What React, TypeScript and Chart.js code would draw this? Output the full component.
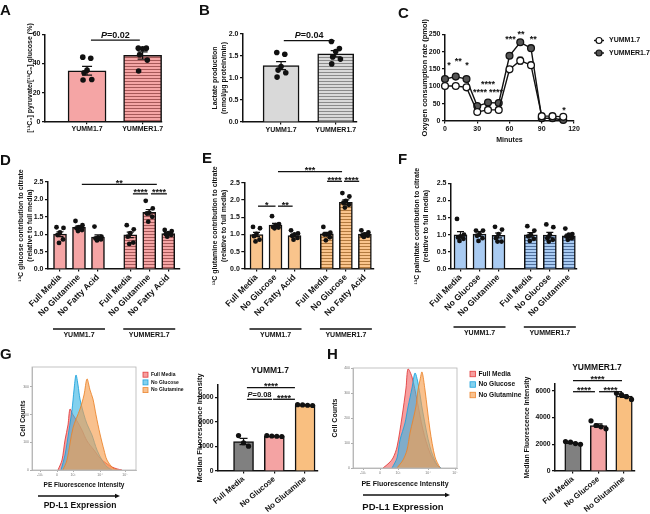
import React, { useEffect, useRef } from "react";
import { Chart, registerables } from "chart.js";

Chart.register(...registerables);

const FONT = "'Liberation Sans', Arial, Helvetica, sans-serif";
const PW = 650;
const PH = 514;
const INK = "#111111";

/* ================= DATA ================= */
// A – [13C3] pyruvate / [13C6] glucose (%)
const cellLines = ["YUMM1.7", "YUMMER1.7"];
const pyruvateMean = [35, 45.5];
const pyruvateSem = [3, 2.5];
const pyruvateYumm = [44.3, 43.6, 35.4, 33.6, 29.0, 28.6];
const pyruvateYummer = [50.5, 50.5, 50.0, 46.0, 42.3, 34.8];
const pyruvateTicks = [0, 20, 40, 60];

// B – lactate production
const lactateMean = [1.28, 1.55];
const lactateSem = [0.09, 0.07];
const lactateYumm = [1.58, 1.54, 1.26, 1.18, 1.12, 1.02];
const lactateYummer = [1.83, 1.67, 1.6, 1.48, 1.43, 1.32];
const lactateTicks = [0, 0.5, 1.0, 1.5, 2.0];

// C – oxygen consumption rate
const minutes = [0, 10, 20, 30, 40, 50, 60, 70, 80, 90, 100, 110];
const ocrYumm = [101, 101, 97, 26, 32, 32, 149, 174, 161, 14, 14, 12];
const ocrYummSem = [4, 4, 4, 3, 3, 3, 6, 10, 6, 2, 2, 2];
const ocrYummer = [121, 128, 121, 43, 53, 52, 188, 227, 210, 8, 8, 3];
const ocrYummerSem = [4, 4, 4, 3, 3, 3, 5, 5, 5, 2, 2, 2];
const ocrTicksX = [0, 30, 60, 90, 120];
const ocrTicksY = [0, 50, 100, 150, 200, 250];
const ocrStarMinutes = [3.7, 12.4, 20.4, 40, 32.5, 47.4, 61, 70.6, 82, 110.6];
const ocrStarValues = [167, 179, 167, 112, 89, 89, 242, 257, 242, 37];
const ocrStarLabels = ["*", "**", "*", "****", "****", "****", "***", "**", "**", "*"];

// D/E/F – tracer contribution to citrate
const tracerTicks = [0, 0.5, 1.0, 1.5, 2.0, 2.5];
const glucoseConditions = ["Full Media", "No Glutamine", "No Fatty Acid"];
const glucoseMean = [1.0, 1.2, 0.92, 0.98, 1.63, 1.02];
const glucoseSem = [0.07, 0.04, 0.06, 0.08, 0.08, 0.03];
const glucoseDots = [
  [1.2, 1.18, 1.05, 0.98, 0.85, 0.75],
  [1.38, 1.26, 1.2, 1.17, 1.12, 1.09],
  [1.22, 0.93, 0.9, 0.88, 0.85, 0.82],
  [1.26, 1.14, 1.03, 0.93, 0.76, 0.72],
  [1.96, 1.74, 1.62, 1.6, 1.5, 1.36],
  [1.12, 1.09, 1.03, 1.0, 0.98, 0.93],
];
const glutamineConditions = ["Full Media", "No Glucose", "No Fatty Acid"];
const glutamineMean = [1.0, 1.27, 0.97, 1.02, 1.93, 1.01];
const glutamineSem = [0.06, 0.05, 0.04, 0.04, 0.07, 0.03];
const glutamineDots = [
  [1.22, 1.18, 1.02, 0.95, 0.85, 0.8],
  [1.53, 1.3, 1.27, 1.22, 1.2, 1.18],
  [1.12, 1.03, 1.0, 0.96, 0.9, 0.85],
  [1.22, 1.05, 1.0, 1.0, 0.92, 0.83],
  [2.2, 2.1, 1.97, 1.92, 1.86, 1.78],
  [1.12, 1.06, 1.0, 0.97, 0.97, 0.93],
];
const palmitateConditions = ["Full Media", "No Glucose", "No Glutamine"];
const palmitateMean = [1.0, 1.02, 0.98, 1.0, 0.99, 0.97];
const palmitateSem = [0.09, 0.07, 0.07, 0.06, 0.08, 0.05];
const palmitateDots = [
  [1.46, 1.0, 0.95, 0.92, 0.88, 0.82],
  [1.12, 1.12, 1.02, 0.97, 0.9, 0.82],
  [1.23, 1.15, 1.02, 0.9, 0.8, 0.8],
  [1.25, 1.12, 1.0, 0.95, 0.88, 0.82],
  [1.3, 1.22, 1.0, 0.9, 0.85, 0.8],
  [1.18, 1.02, 1.0, 0.95, 0.9, 0.85],
];

// G/H – PD-L1 median fluorescence intensity
const mediaConditions = ["Full Media", "No Glucose", "No Glutamine"];
const mfiYummMean = [1200, 1420, 2680];
const mfiYummSem = [130, 15, 15];
const mfiYummDots = [[1440, 1150, 1010], [1440, 1425, 1415, 1405], [2700, 2690, 2675, 2665]];
const mfiYummTicks = [0, 1000, 2000, 3000];
const mfiYummerMean = [2100, 3400, 5600];
const mfiYummerSem = [45, 125, 95];
const mfiYummerDots = [[2200, 2150, 2050, 2000], [3750, 3400, 3300, 3150], [5800, 5700, 5550, 5350]];
const mfiYummerTicks = [0, 2000, 4000, 6000];

// G/H – flow histograms (channel, cell count)
const histLegend = ["Full Media", "No Glucose", "No Glutamine"];
const histTickLabels = ["-10³", "0", "10³", "10⁴", "10⁵"];
const histGTickPos = [8, 25, 41, 68, 93];
const histHTickPos = [10, 27, 45, 75, 102];
const histGCountTicks = [0, 100, 200, 300];
const histHCountTicks = [0, 100, 200, 300, 400];
const histGFull = [[26, 0], [30, 36], [33, 108], [36, 163], [38, 220], [41, 199], [45, 177], [50, 144], [55, 105], [62, 72], [68, 43], [75, 22], [80, 11], [85, 4], [90, 0]];
const histGNoGlc = [[29, 0], [33, 54], [37, 144], [40, 217], [42, 289], [44, 343], [46, 307], [48, 256], [52, 199], [55, 166], [60, 126], [65, 72], [70, 36], [75, 11], [80, 0]];
const histGNoGln = [[31, 0], [35, 36], [41, 152], [48, 220], [52, 271], [55, 329], [58, 289], [61, 256], [64, 199], [68, 130], [72, 72], [75, 36], [81, 7], [86, 0]];
const histHFull = [[30, 0], [36, 20], [40, 40], [44, 84], [49, 204], [53, 320], [55, 396], [59, 364], [64, 272], [70, 152], [77, 60], [84, 12], [88, 0]];
const histHNoGlc = [[39, 0], [44, 40], [47, 112], [52, 180], [55, 244], [59, 320], [62, 380], [65, 340], [70, 220], [77, 84], [84, 12], [88, 0]];
const histHNoGln = [[44, 0], [50, 32], [54, 72], [57, 140], [60, 192], [63, 248], [65, 312], [67, 352], [69, 384], [72, 312], [77, 152], [82, 44], [87, 0]];

/* ================= HELPERS ================= */
type Area = { l: number; t: number; r: number; b: number };

const twoPos = [1, 2];
const threePos = [1, 2, 3];
const sixPos = [0, 1, 2, 3, 4, 5].map((i) => i + 1 + (i >= 3 ? 0.7 : 0));

function layoutFor(a: Area, yW: number, xH: number) {
  return { padding: { left: a.l - yW, top: a.t, right: PW - a.r, bottom: PH - a.b - xH } };
}
function fnt(size: number, extra: any = {}) {
  return { family: FONT, size, weight: "bold", lineHeight: 1.3, ...extra };
}
function yTitlePad(centerX: number, a: Area, yW: number, size: number) {
  return { top: Math.max(0, centerX - (a.l - yW) - (size * 1.3) / 2), bottom: 0 };
}
function hatch(base: string, line: string): any {
  const c = document.createElement("canvas");
  c.width = 4;
  c.height = 3;
  const g = c.getContext("2d")!;
  g.fillStyle = base;
  g.fillRect(0, 0, 4, 3);
  g.fillStyle = line;
  g.fillRect(0, 0, 4, 1);
  return g.createPattern(c, "repeat") || base;
}
function drawLabel(c: CanvasRenderingContext2D, label: string, cx: number, lineY: number, pSize: number, starSize: number) {
  c.fillStyle = INK;
  c.textBaseline = "alphabetic";
  if (label.startsWith("P=")) {
    const rest = label.slice(1);
    c.font = `italic bold ${pSize}px ${FONT}`;
    const w1 = c.measureText("P").width;
    c.font = `bold ${pSize}px ${FONT}`;
    const w2 = c.measureText(rest).width;
    const x0 = cx - (w1 + w2) / 2;
    c.textAlign = "left";
    c.font = `italic bold ${pSize}px ${FONT}`;
    c.fillText("P", x0, lineY - 2.5);
    c.font = `bold ${pSize}px ${FONT}`;
    c.fillText(rest, x0 + w1, lineY - 2.5);
  } else {
    c.font = `bold ${starSize}px ${FONT}`;
    c.textAlign = "center";
    c.fillText(label, cx, lineY + starSize * 0.15);
  }
}
function drawStar(c: CanvasRenderingContext2D, label: string, x: number, y: number, size: number) {
  c.fillStyle = INK;
  c.font = `bold ${size}px ${FONT}`;
  c.textAlign = "center";
  c.textBaseline = "alphabetic";
  c.fillText(label, x, y + size * 0.57);
}

type Sig = { from: number; to: number; at: number; label: string };
type Group = { from: number; to: number; label: string };

interface BarSpec {
  area: Area; yW: number; xH: number; xMin: number; xMax: number;
  pos: number[]; labels: string[];
  mean: number[]; sem: number[]; dots: number[][];
  fills: any[]; barW: number; dotR: number; capHalf: number;
  spread: (k: number, n: number) => number;
  yMax: number; yTicks: number[]; yFmt: (v: number) => string;
  yTitle: string | string[]; yTitleSize: number; yTitleX: number;
  tickFont: number; xTickFont: number; rotate: number;
  sig: Sig[]; pFont: number; starFont: number;
  groups?: Group[]; groupY?: number;
  heading?: { text: string; x: number; y: number; size: number };
}

function buildBar(canvas: HTMLCanvasElement, s: BarSpec) {
  const pxPerUnit = (s.area.r - s.area.l) / (s.xMax - s.xMin);
  const dotData: { x: number; y: number }[] = [];
  s.dots.forEach((vals, i) =>
    vals.forEach((v, k) => dotData.push({ x: s.pos[i] + s.spread(k, vals.length) / pxPerUnit, y: v }))
  );
  const annot = {
    id: "barAnnot",
    beforeDatasetDraw(chart: any, args: any) {
      if (args.index !== 1) return;
      const xs = chart.scales.x, ys = chart.scales.y, c = chart.ctx;
      c.save();
      c.strokeStyle = INK;
      c.lineWidth = 1.2;
      s.pos.forEach((p, i) => {
        const x = xs.getPixelForValue(p);
        const yT = ys.getPixelForValue(s.mean[i] + s.sem[i]);
        const yB = ys.getPixelForValue(s.mean[i] - s.sem[i]);
        c.beginPath();
        c.moveTo(x, yT); c.lineTo(x, yB);
        c.moveTo(x - s.capHalf, yT); c.lineTo(x + s.capHalf, yT);
        c.moveTo(x - s.capHalf, yB); c.lineTo(x + s.capHalf, yB);
        c.stroke();
      });
      c.restore();
    },
    afterDraw(chart: any) {
      const xs = chart.scales.x, ys = chart.scales.y, c = chart.ctx;
      c.save();
      s.sig.forEach((g) => {
        const x1 = xs.getPixelForValue(g.from), x2 = xs.getPixelForValue(g.to), y = ys.getPixelForValue(g.at);
        c.strokeStyle = INK;
        c.lineWidth = 1.3;
        c.beginPath(); c.moveTo(x1, y); c.lineTo(x2, y); c.stroke();
        drawLabel(c, g.label, (x1 + x2) / 2, y, s.pFont, s.starFont);
      });
      (s.groups || []).forEach((g) => {
        const x1 = xs.getPixelForValue(g.from) - s.barW / 2 - 0.5;
        const x2 = xs.getPixelForValue(g.to) + s.barW / 2 + 0.5;
        const y = s.groupY!;
        c.strokeStyle = INK;
        c.lineWidth = 1.5;
        c.beginPath(); c.moveTo(x1, y); c.lineTo(x2, y); c.stroke();
        c.fillStyle = INK;
        c.font = `bold 7px ${FONT}`;
        c.textAlign = "center";
        c.textBaseline = "middle";
        c.fillText(g.label, (x1 + x2) / 2, y + 6);
      });
      if (s.heading) {
        c.fillStyle = INK;
        c.font = `bold ${s.heading.size}px ${FONT}`;
        c.textAlign = "center";
        c.textBaseline = "middle";
        c.fillText(s.heading.text, s.heading.x, s.heading.y);
      }
      c.restore();
    },
  };
  return new Chart(canvas, {
    type: "bar",
    data: {
      datasets: [
        {
          type: "bar",
          data: s.pos.map((p, i) => ({ x: p, y: s.mean[i] })),
          backgroundColor: s.fills,
          borderColor: INK,
          borderWidth: 1.5,
          barThickness: s.barW,
          order: 2,
          clip: false,
        } as any,
        {
          type: "scatter",
          data: dotData,
          pointRadius: s.dotR,
          pointBackgroundColor: INK,
          pointBorderWidth: 0,
          order: 1,
          clip: false,
        } as any,
      ],
    },
    options: {
      responsive: false,
      animation: false,
      devicePixelRatio: 1,
      events: [],
      layout: layoutFor(s.area, s.yW, s.xH),
      plugins: { legend: { display: false }, tooltip: { enabled: false } },
      scales: {
        x: {
          type: "linear",
          min: s.xMin,
          max: s.xMax,
          offset: false,
          afterBuildTicks: (sc: any) => { sc.ticks = s.pos.map((v) => ({ value: v })); },
          afterFit: (sc: any) => { sc.height = s.xH; },
          grid: { display: true, drawOnChartArea: false, drawTicks: true, tickLength: 2.5, color: INK, lineWidth: 1.2, offset: false },
          border: { display: true, color: INK, width: 1.5 },
          ticks: {
            autoSkip: false,
            maxRotation: s.rotate,
            minRotation: s.rotate,
            padding: 1,
            color: INK,
            font: fnt(s.xTickFont, { lineHeight: 1.2 }),
            callback: (v: any) => {
              const i = s.pos.findIndex((p) => Math.abs(p - v) < 1e-6);
              return i >= 0 ? s.labels[i] : "";
            },
          },
        },
        y: {
          type: "linear",
          min: 0,
          max: s.yMax,
          afterBuildTicks: (sc: any) => { sc.ticks = s.yTicks.map((v) => ({ value: v })); },
          afterFit: (sc: any) => { sc.width = s.yW; },
          grid: { display: true, drawOnChartArea: false, drawTicks: true, tickLength: 3, color: INK, lineWidth: 1.2 },
          border: { display: true, color: INK, width: 1.5 },
          ticks: { padding: 1.5, color: INK, font: fnt(s.tickFont, { lineHeight: 1.2 }), callback: (v: any) => s.yFmt(v) },
          title: {
            display: true,
            text: s.yTitle,
            color: INK,
            font: fnt(s.yTitleSize),
            padding: yTitlePad(s.yTitleX, s.area, s.yW, s.yTitleSize),
          },
        },
      },
    } as any,
    plugins: [annot],
  });
}

const spreadLoose = (k: number) => [-4.3, 3.7, 0, -3, 4.7, -4][k % 6];
const spreadTight = (k: number) => [-3.5, 3.5, 0, -2.5, 3, -1][k % 6];
const spreadRow = (k: number, n: number) => (k - (n - 1) / 2) * 5;
const fixed1 = (v: number) => v.toFixed(1);
const plain = (v: number) => String(v);

const PINK = "#F5A5A5";
const ORANGE = "#F9C48C";
const BLUE = "#A9CBF2";

function buildA(cv: HTMLCanvasElement) {
  return buildBar(cv, {
    area: { l: 45, t: 34.3, r: 161.5, b: 121.7 }, yW: 40, xH: 22, xMin: 0.243, xMax: 2.34,
    pos: twoPos, labels: cellLines, mean: pyruvateMean, sem: pyruvateSem, dots: [pyruvateYumm, pyruvateYummer],
    fills: [PINK, hatch(PINK, "#A65858")], barW: 38, dotR: 2.8, capHalf: 5, spread: spreadLoose,
    yMax: 60, yTicks: pyruvateTicks, yFmt: plain,
    yTitle: "[¹³C₃] pyruvate/[¹³C₆] glucose (%)", yTitleSize: 7, yTitleX: 30,
    tickFont: 7, xTickFont: 7, rotate: 0,
    sig: [{ from: 1.07, to: 1.95, at: 56, label: "P=0.02" }], pFont: 9, starFont: 9,
  });
}
function buildB(cv: HTMLCanvasElement) {
  return buildBar(cv, {
    area: { l: 243, t: 34, r: 357, b: 122 }, yW: 40, xH: 22, xMin: 0.303, xMax: 2.39,
    pos: twoPos, labels: cellLines, mean: lactateMean, sem: lactateSem, dots: [lactateYumm, lactateYummer],
    fills: ["#D9D9D9", hatch("#D9D9D9", "#8A8A8A")], barW: 36, dotR: 2.8, capHalf: 5, spread: spreadLoose,
    yMax: 2, yTicks: lactateTicks, yFmt: fixed1,
    yTitle: ["Lactate production", "(nmol/μg protein/min)"], yTitleSize: 7, yTitleX: 215,
    tickFont: 7, xTickFont: 7, rotate: 0,
    sig: [{ from: 1.05, to: 1.98, at: 1.85, label: "P=0.04" }], pFont: 9, starFont: 9,
  });
}
function tracer(area: Area, xMin: number, xMax: number, conds: string[], mean: number[], sem: number[], dots: number[][],
  color: string, line: string, title: string, titleX: number, sig: Sig[], groupY: number) {
  const h = hatch(color, line);
  return {
    area, yW: 40, xH: 60, xMin, xMax, pos: sixPos, labels: [...conds, ...conds], mean, sem, dots,
    fills: [color, color, color, h, h, h], barW: 13, dotR: 2.4, capHalf: 3.5, spread: spreadTight,
    yMax: 2.5, yTicks: tracerTicks, yFmt: fixed1,
    yTitle: [title, "(relative to full media)"], yTitleSize: 7, yTitleX: titleX,
    tickFont: 7, xTickFont: 8.5, rotate: 45, sig, pFont: 9, starFont: 9,
    groups: [{ from: sixPos[0], to: sixPos[2], label: "YUMM1.7" }, { from: sixPos[3], to: sixPos[5], label: "YUMMER1.7" }],
    groupY,
  } as BarSpec;
}
function buildD(cv: HTMLCanvasElement) {
  return buildBar(cv, tracer({ l: 48, t: 182, r: 180, b: 269 }, 0.368, 7.32, glucoseConditions, glucoseMean, glucoseSem,
    glucoseDots, PINK, "#A65858", "¹³C glucose contribution to citrate", 21,
    [
      { from: 2.15, to: 6.1, at: 2.43, label: "**" },
      { from: 4.84, to: 5.63, at: 2.16, label: "****" },
      { from: 5.79, to: 6.63, at: 2.16, label: "****" },
    ], 329));
}
function buildE(cv: HTMLCanvasElement) {
  return buildBar(cv, tracer({ l: 244.3, t: 182.7, r: 374, b: 269 }, 0.358, 7.18, glutamineConditions, glutamineMean,
    glutamineSem, glutamineDots, ORANGE, "#B27A3E", "¹³C glutamine contribution to citrate", 215,
    [
      { from: 1.08, to: 2.0, at: 1.82, label: "*" },
      { from: 2.13, to: 2.9, at: 1.82, label: "**" },
      { from: 4.71, to: 5.5, at: 2.54, label: "****" },
      { from: 5.6, to: 6.4, at: 2.54, label: "****" },
      { from: 2.13, to: 5.5, at: 2.82, label: "***" },
    ], 329));
}
function buildF(cv: HTMLCanvasElement) {
  return buildBar(cv, tracer({ l: 451, t: 183.3, r: 577, b: 269 }, 0.5, 7.13, palmitateConditions, palmitateMean,
    palmitateSem, palmitateDots, BLUE, "#4F6F9C", "¹³C palmitate contribution to citrate", 417, [], 327));
}
function buildGBar(cv: HTMLCanvasElement) {
  return buildBar(cv, {
    area: { l: 218, t: 385, r: 318, b: 471 }, yW: 30, xH: 43, xMin: 0.17, xMax: 3.42,
    pos: threePos, labels: mediaConditions, mean: mfiYummMean, sem: mfiYummSem, dots: mfiYummDots,
    fills: ["#808080", "#F4A3A3", "#F9BF80"], barW: 20, dotR: 2.6, capHalf: 4, spread: spreadRow,
    yMax: 3500, yTicks: mfiYummTicks, yFmt: plain,
    yTitle: "Median Fluorescence Intensity", yTitleSize: 7.5, yTitleX: 200,
    tickFont: 6.8, xTickFont: 7.8, rotate: 40,
    sig: [
      { from: 1.11, to: 2.67, at: 3390, label: "****" },
      { from: 1.11, to: 1.93, at: 2918, label: "P=0.08" },
      { from: 1.96, to: 2.67, at: 2918, label: "****" },
    ], pFont: 7.5, starFont: 9,
    heading: { text: "YUMM1.7", x: 270, y: 371, size: 8.5 },
  });
}
function buildHBar(cv: HTMLCanvasElement) {
  return buildBar(cv, {
    area: { l: 555, t: 384, r: 635, b: 471 }, yW: 35, xH: 43, xMin: 0.294, xMax: 3.43,
    pos: threePos, labels: mediaConditions, mean: mfiYummerMean, sem: mfiYummerSem, dots: mfiYummerDots,
    fills: ["#808080", "#F4A3A3", "#F9BF80"], barW: 16.5, dotR: 2.6, capHalf: 4, spread: spreadRow,
    yMax: 6500, yTicks: mfiYummerTicks, yFmt: plain,
    yTitle: "Median Fluorescence Intensity", yTitleSize: 7, yTitleX: 527,
    tickFont: 6.8, xTickFont: 7.8, rotate: 40,
    sig: [
      { from: 1.0, to: 2.92, at: 6750, label: "****" },
      { from: 1.0, to: 1.86, at: 5925, label: "****" },
      { from: 2.02, to: 2.92, at: 5925, label: "****" },
    ], pFont: 7.5, starFont: 9,
    heading: { text: "YUMMER1.7", x: 597, y: 368, size: 8.5 },
  });
}

/* ---------- C: line chart ---------- */
function buildC(cv: HTMLCanvasElement) {
  const area = { l: 445, t: 34.3, r: 574, b: 121 };
  const yW = 40, xH = 25;
  const plug = {
    id: "ocrAnnot",
    beforeDatasetsDraw(chart: any) {
      const xs = chart.scales.x, ys = chart.scales.y, c = chart.ctx;
      c.save();
      c.strokeStyle = INK;
      c.lineWidth = 1;
      const series: [number[], number[]][] = [[ocrYumm, ocrYummSem], [ocrYummer, ocrYummerSem]];
      series.forEach(([m, e]) => m.forEach((v, i) => {
        const x = xs.getPixelForValue(minutes[i]);
        const y1 = ys.getPixelForValue(v + e[i]);
        const y2 = ys.getPixelForValue(v - e[i]);
        c.beginPath();
        c.moveTo(x, y1); c.lineTo(x, y2);
        c.moveTo(x - 2.5, y1); c.lineTo(x + 2.5, y1);
        c.moveTo(x - 2.5, y2); c.lineTo(x + 2.5, y2);
        c.stroke();
      }));
      c.restore();
    },
    afterDraw(chart: any) {
      const xs = chart.scales.x, ys = chart.scales.y, c = chart.ctx;
      c.save();
      ocrStarMinutes.forEach((m, i) => drawStar(c, ocrStarLabels[i], xs.getPixelForValue(m), ys.getPixelForValue(ocrStarValues[i]), 9));
      const items: [string, string, number][] = [["YUMM1.7", "#ffffff", 40.5], ["YUMMER1.7", "#555555", 53]];
      items.forEach(([name, fill, y]) => {
        c.strokeStyle = INK;
        c.lineWidth = 1.4;
        c.beginPath(); c.moveTo(594, y); c.lineTo(604, y); c.stroke();
        c.beginPath(); c.arc(599, y, 3, 0, Math.PI * 2);
        c.fillStyle = fill; c.fill();
        c.lineWidth = 1.2; c.stroke();
        c.fillStyle = INK;
        c.font = `bold 7px ${FONT}`;
        c.textAlign = "left";
        c.textBaseline = "middle";
        c.fillText(name, 609, y);
      });
      c.restore();
    },
  };
  const ds = (vals: number[], fill: string, order: number) => ({
    data: minutes.map((m, i) => ({ x: m, y: vals[i] })),
    borderColor: INK, borderWidth: 1.4, pointRadius: 3.4,
    pointBackgroundColor: fill, pointBorderColor: INK, pointBorderWidth: 1.3,
    tension: 0, clip: false, order,
  });
  return new Chart(cv, {
    type: "line",
    data: { datasets: [ds(ocrYumm, "#ffffff", 1), ds(ocrYummer, "#555555", 2)] as any },
    options: {
      responsive: false, animation: false, devicePixelRatio: 1, events: [],
      layout: layoutFor(area, yW, xH),
      plugins: { legend: { display: false }, tooltip: { enabled: false } },
      scales: {
        x: {
          type: "linear", min: 0, max: 120,
          afterBuildTicks: (sc: any) => { sc.ticks = ocrTicksX.map((v) => ({ value: v })); },
          afterFit: (sc: any) => { sc.height = xH; },
          grid: { display: true, drawOnChartArea: false, tickLength: 2.5, color: INK, lineWidth: 1.2 },
          border: { display: true, color: INK, width: 1.5 },
          ticks: { padding: 1, color: INK, font: fnt(7, { lineHeight: 1.2 }) },
          title: { display: true, text: "Minutes", color: INK, font: fnt(7, { lineHeight: 1.2 }), padding: { top: 0, bottom: 1.8 } },
        },
        y: {
          type: "linear", min: 0, max: 250,
          afterBuildTicks: (sc: any) => { sc.ticks = ocrTicksY.map((v) => ({ value: v })); },
          afterFit: (sc: any) => { sc.width = yW; },
          grid: { display: true, drawOnChartArea: false, tickLength: 3, color: INK, lineWidth: 1.2 },
          border: { display: true, color: INK, width: 1.5 },
          ticks: { padding: 1.5, color: INK, font: fnt(7, { lineHeight: 1.2 }) },
          title: { display: true, text: "Oxygen consumption rate (pmol)", color: INK, font: fnt(7.5), padding: yTitlePad(425, area, yW, 7.5) },
        },
      },
    } as any,
    plugins: [plug],
  });
}

/* ---------- G/H: histograms ---------- */
const histColors = [
  { fill: "rgba(240,100,100,0.62)", stroke: "rgba(225,55,55,0.95)" },
  { fill: "rgba(55,180,228,0.62)", stroke: "rgba(25,160,220,0.95)" },
  { fill: "rgba(245,158,78,0.64)", stroke: "rgba(235,130,40,0.95)" },
];
interface HistSpec {
  area: Area; yMax: number; yTicks: number[]; xTicks: number[]; series: number[][][];
  legend: { x: number; y0: number; dy: number; box: number; size: number };
  yTitleX: number; titleSize: number; xTitlePad: number;
  arrow: { x1: number; x2: number; y: number }; expr: { x: number; y: number; size: number };
}
function buildHist(cv: HTMLCanvasElement, h: HistSpec) {
  const yW = 25, xH = 20;
  const plug = {
    id: "histAnnot",
    afterDraw(chart: any) {
      const c = chart.ctx, a = chart.chartArea;
      c.save();
      c.strokeStyle = "#b5b5b5";
      c.lineWidth = 0.8;
      c.strokeRect(a.left, a.top, a.right - a.left, a.bottom - a.top);
      histLegend.forEach((name, i) => {
        const y = h.legend.y0 + i * h.legend.dy;
        c.fillStyle = "#ffffff";
        c.fillRect(h.legend.x, y - h.legend.box / 2, h.legend.box, h.legend.box);
        c.fillStyle = histColors[i].fill;
        c.fillRect(h.legend.x, y - h.legend.box / 2, h.legend.box, h.legend.box);
        c.strokeStyle = histColors[i].stroke;
        c.lineWidth = 0.8;
        c.strokeRect(h.legend.x, y - h.legend.box / 2, h.legend.box, h.legend.box);
        c.fillStyle = INK;
        c.font = `bold ${h.legend.size}px ${FONT}`;
        c.textAlign = "left";
        c.textBaseline = "middle";
        c.fillText(name, h.legend.x + h.legend.box + 3, y);
      });
      c.strokeStyle = INK;
      c.fillStyle = INK;
      c.lineWidth = 1.3;
      c.beginPath(); c.moveTo(h.arrow.x1, h.arrow.y); c.lineTo(h.arrow.x2 - 4, h.arrow.y); c.stroke();
      c.beginPath();
      c.moveTo(h.arrow.x2, h.arrow.y);
      c.lineTo(h.arrow.x2 - 5, h.arrow.y - 2.3);
      c.lineTo(h.arrow.x2 - 5, h.arrow.y + 2.3);
      c.closePath();
      c.fill();
      c.font = `bold ${h.expr.size}px ${FONT}`;
      c.textAlign = "center";
      c.textBaseline = "middle";
      c.fillText("PD-L1 Expression", h.expr.x, h.expr.y);
      c.restore();
    },
  };
  return new Chart(cv, {
    type: "line",
    data: {
      datasets: h.series.map((pts, i) => ({
        data: pts.map(([x, y]) => ({ x, y })),
        fill: "origin",
        backgroundColor: histColors[i].fill,
        borderColor: histColors[i].stroke,
        borderWidth: 0.9,
        pointRadius: 0,
        tension: 0.3,
        order: 3 - i,
      })) as any,
    },
    options: {
      responsive: false, animation: false, devicePixelRatio: 1, events: [],
      layout: layoutFor(h.area, yW, xH),
      plugins: { legend: { display: false }, tooltip: { enabled: false } },
      scales: {
        x: {
          type: "linear", min: 0, max: 104,
          afterBuildTicks: (sc: any) => { sc.ticks = h.xTicks.map((v) => ({ value: v })); },
          afterFit: (sc: any) => { sc.height = xH; },
          grid: { display: true, drawOnChartArea: false, tickLength: 2, color: "#999", lineWidth: 0.8 },
          border: { display: true, color: "#aaa", width: 0.8 },
          ticks: {
            padding: 1, color: "#777", font: { family: FONT, size: 3.5 },
            callback: (v: any) => { const i = h.xTicks.indexOf(v); return i >= 0 ? histTickLabels[i] : ""; },
          },
          title: { display: true, text: "PE Fluorescence Intensity", color: INK, font: fnt(h.titleSize, { lineHeight: 1.2 }), padding: { top: 0, bottom: h.xTitlePad } },
        },
        y: {
          type: "linear", min: 0, max: h.yMax,
          afterBuildTicks: (sc: any) => { sc.ticks = h.yTicks.map((v) => ({ value: v })); },
          afterFit: (sc: any) => { sc.width = yW; },
          grid: { display: true, drawOnChartArea: false, tickLength: 2, color: "#999", lineWidth: 0.8 },
          border: { display: true, color: "#aaa", width: 0.8 },
          ticks: { padding: 1, color: "#777", font: { family: FONT, size: 3.5 } },
          title: { display: true, text: "Cell Counts", color: INK, font: fnt(h.titleSize), padding: yTitlePad(h.yTitleX, h.area, yW, h.titleSize) },
        },
      },
    } as any,
    plugins: [plug],
  });
}
function buildGHist(cv: HTMLCanvasElement) {
  return buildHist(cv, {
    area: { l: 32, t: 367, r: 136, b: 470 }, yMax: 372, yTicks: histGCountTicks, xTicks: histGTickPos,
    series: [histGFull, histGNoGlc, histGNoGln],
    legend: { x: 143, y0: 374.7, dy: 7.7, box: 5, size: 5 },
    yTitleX: 23, titleSize: 6.5, xTitlePad: 1.1,
    arrow: { x1: 38, x2: 120, y: 496 }, expr: { x: 80, y: 506, size: 8.5 },
  });
}
function buildHHist(cv: HTMLCanvasElement) {
  return buildHist(cv, {
    area: { l: 353, t: 368, r: 457, b: 468 }, yMax: 400, yTicks: histHCountTicks, xTicks: histHTickPos,
    series: [histHFull, histHNoGlc, histHNoGln],
    legend: { x: 470, y0: 374, dy: 10.5, box: 5.5, size: 6.6 },
    yTitleX: 335, titleSize: 7, xTitlePad: 0.2,
    arrow: { x1: 363, x2: 450, y: 495 }, expr: { x: 403, y: 507, size: 9.5 },
  });
}

/* ================= COMPONENTS ================= */
function ChartCanvas({ build }: { build: (c: HTMLCanvasElement) => Chart }) {
  const ref = useRef<HTMLCanvasElement>(null);
  useEffect(() => {
    const chart = build(ref.current!);
    return () => chart.destroy();
  }, [build]);
  return (
    <canvas
      ref={ref}
      width={PW}
      height={PH}
      style={{ position: "absolute", left: 0, top: 0, width: PW, height: PH }}
    />
  );
}

const builders = [buildA, buildB, buildC, buildD, buildE, buildF, buildGHist, buildGBar, buildHHist, buildHBar];
const panelLetters: [string, number, number][] = [
  ["A", 0, 2], ["B", 199, 2], ["C", 398, 5],
  ["D", 0, 152], ["E", 202, 150], ["F", 398, 151],
  ["G", 0, 346], ["H", 327, 346],
];

export default function App() {
  return (
    <div
      style={{
        position: "fixed", left: 0, top: 0, width: PW, height: PH,
        background: "#ffffff", overflow: "hidden", fontFamily: FONT,
      }}
    >
      {builders.map((b, i) => (
        <ChartCanvas key={i} build={b} />
      ))}
      {panelLetters.map(([t, x, y]) => (
        <div
          key={t}
          style={{
            position: "absolute", left: x, top: y, fontSize: 15, lineHeight: "15px",
            fontWeight: "bold", color: INK, fontFamily: FONT,
          }}
        >
          {t}
        </div>
      ))}
    </div>
  );
}
